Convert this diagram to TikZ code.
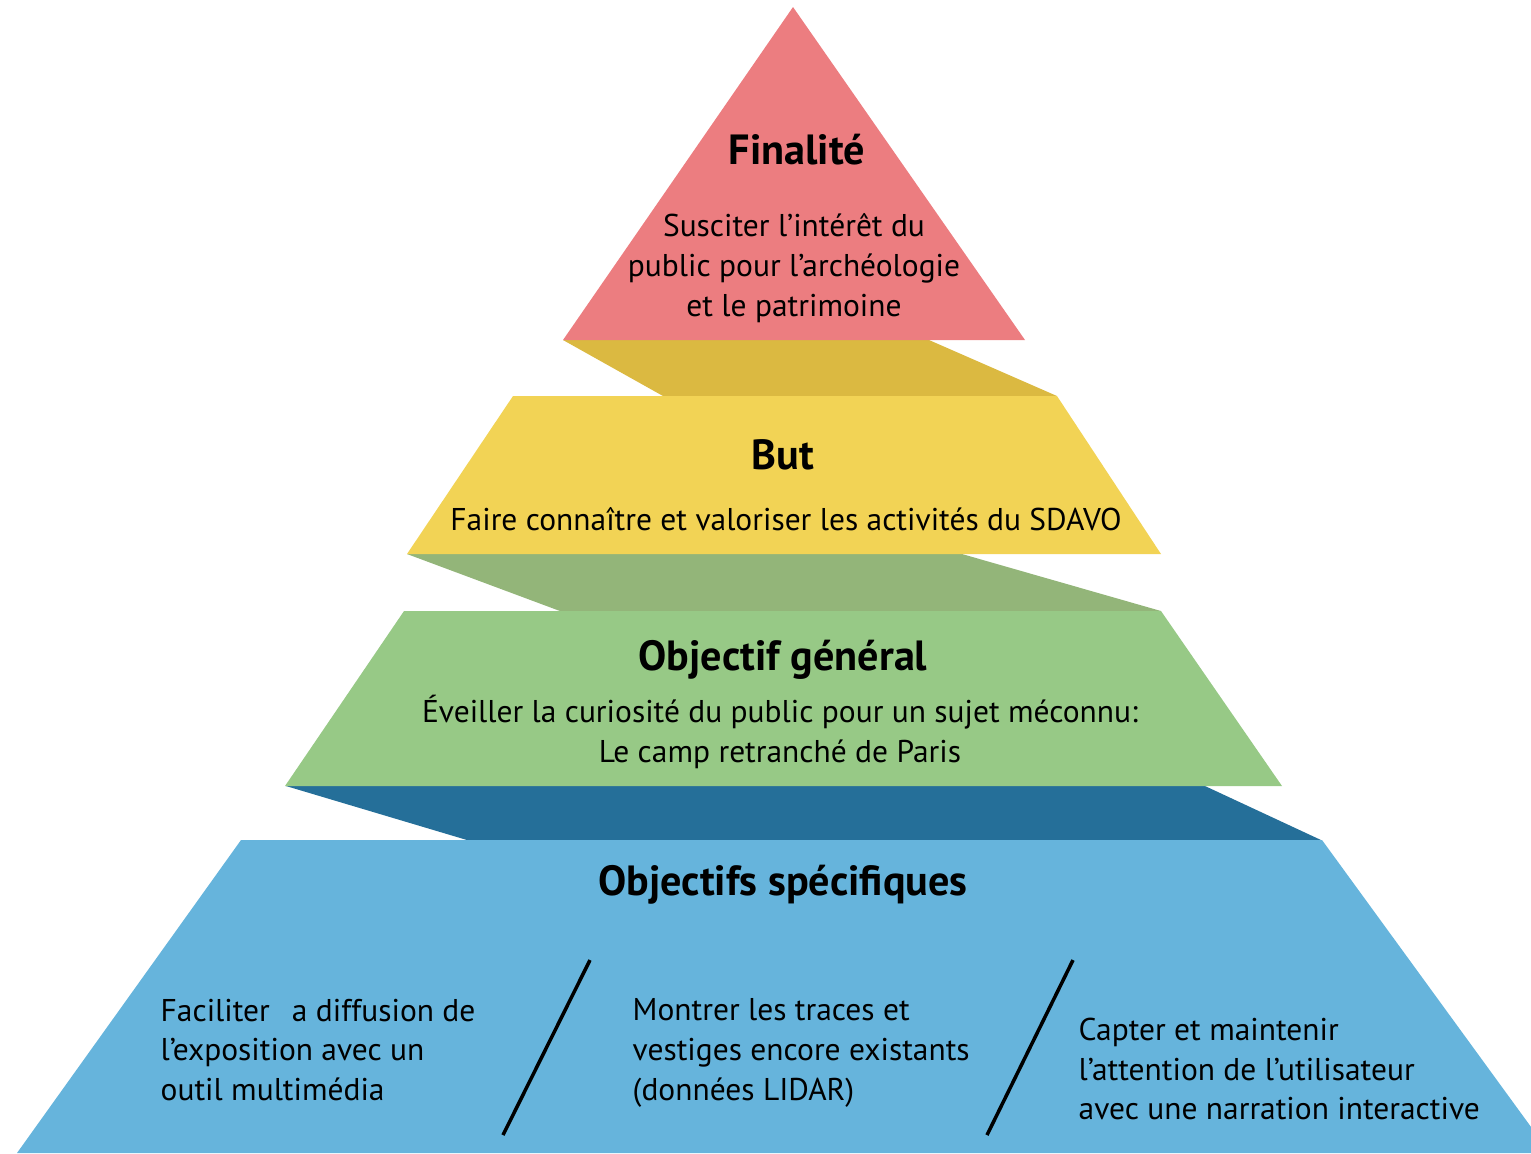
\documentclass[tikz,border=0pt]{standalone}
\usepackage{fontspec}
\setmainfont{PT Sans}
\definecolor{finalite}{HTML}{EC7D80}
\definecolor{finaliteband}{HTML}{DBB941}
\definecolor{but}{HTML}{F2D355}
\definecolor{butband}{HTML}{93B579}
\definecolor{general}{HTML}{97C986}
\definecolor{generalband}{HTML}{256F99}
\definecolor{specifique}{HTML}{66B4DC}
\tikzset{
  layer/.style={fill=#1, draw=none},
  title/.style={font=\fontsize{12}{14}\selectfont\bfseries, inner sep=0pt},
  body/.style={font=\fontsize{8.95}{11.3}\selectfont, inner sep=0pt, align=center},
  item/.style={font=\fontsize{8.95}{11.3}\selectfont, inner sep=0pt, align=left, anchor=west},
  slash/.style={line width=1pt, black}
}
\begin{document}
\begin{tikzpicture}[x=0.01cm, y=-0.01cm]
  \useasboundingbox (0,0) rectangle (1531,1153);
  \fill[layer=finaliteband] (563,340) -- (929,340) -- (1057,396) -- (663,396) -- cycle;
  \fill[layer=butband] (407,554) -- (962,554) -- (1161,611) -- (560,611) -- cycle;
  \fill[layer=generalband] (286,786) -- (1205,786) -- (1321,840) -- (467,840) -- cycle;
  \fill[layer=finalite] (793,7) -- (1025,340) -- (563,340) -- cycle;
  \fill[layer=but] (513,396) -- (1057,396) -- (1161,554) -- (407,554) -- cycle;
  \fill[layer=general] (404,611) -- (1161,611) -- (1282,786) -- (285,786) -- cycle;
  \fill[layer=specifique] (241,840) -- (1322,840) -- (1550,1153) -- (17,1153) -- cycle;

  \node[title] (finalite) at (797,150) {Finalité};
  \node[body] (finalitetxt) at (794,268) {Susciter l’intérêt du\\public pour l’archéologie\\et le patrimoine};
  \node[title] (but) at (783,455) {But};
  \node[body] (buttxt) at (786,519) {Faire connaître et valoriser les activités du SDAVO};
  \node[title] (general) at (783,660) {Objectif général};
  \node[body] (generaltxt) at (780,732) {Éveiller la curiosité du public pour un sujet méconnu:\\Le camp retranché de Paris};
  \node[title] (specifique) at (783,885) {Objectifs spécifiques};
  \node[item] (diffusion) at (160,1050) {Faciliter\hspace{0.7em}a diffusion de\\l’exposition avec un\\outil multimédia};
  \node[item] (traces) at (632,1053) {Montrer les traces et\\vestiges encore existants\\(données LIDAR)};
  \node[item] (attention) at (1078,1069) {Capter et maintenir\\l’attention de l’utilisateur\\avec une narration interactive};

  \coordinate (s1a) at (590,960);
  \coordinate (s1b) at (503,1135);
  \coordinate (s2a) at (1073,960);
  \coordinate (s2b) at (987,1135);
  \draw[slash] (s1a) -- (s1b);
  \draw[slash] (s2a) -- (s2b);
\end{tikzpicture}
\end{document}
